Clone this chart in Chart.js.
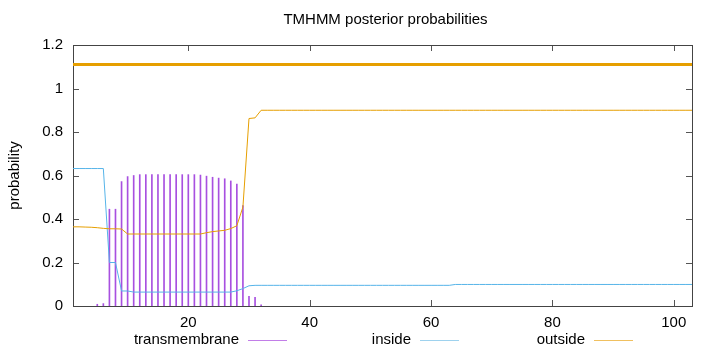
<!DOCTYPE html>
<html>
<head>
<meta charset="utf-8">
<title>TMHMM posterior probabilities</title>
<script src="https://cdn.jsdelivr.net/npm/chart.js@4.4.1/dist/chart.umd.min.js"></script>
<style>
    html, body { margin: 0; padding: 0; background: #fff; }
    #wrap { width: 720px; height: 352px; position: relative; }
</style>
</head>
<body>
<div id="wrap"><canvas id="tmhmmChart" width="720" height="352"></canvas></div>
<script>
// 序列長度與刻度
const seqLength = 103;
const xTicks = [20, 40, 60, 80, 100];
const yTicks = [0, 0.2, 0.4, 0.6, 0.8, 1, 1.2];

// transmembrane (impulses) — 只列出非零的殘基
const tmResidues = [5, 6, 7, 8, 9, 10, 11, 12, 13, 14, 15, 16, 17, 18, 19, 20,
    21, 22, 23, 24, 25, 26, 27, 28, 29, 30, 31, 32];
const tmValues = [0.008, 0.011, 0.445, 0.445, 0.572, 0.595, 0.600, 0.604, 0.604, 0.604,
    0.604, 0.604, 0.604, 0.604, 0.604, 0.604,
    0.604, 0.602, 0.597, 0.592, 0.588, 0.585, 0.575, 0.560, 0.462, 0.045, 0.040, 0.005];

// inside probability, residues 1..103
const insideValues = [
    0.632, 0.632, 0.632, 0.632, 0.632, 0.632, 0.200, 0.200, 0.069, 0.069,
    0.064, 0.064, 0.064, 0.064, 0.064, 0.064, 0.064, 0.064, 0.064, 0.064,
    0.064, 0.064, 0.064, 0.064, 0.064, 0.064, 0.064, 0.070, 0.080, 0.093,
    0.095, 0.095, 0.095, 0.095, 0.095, 0.095, 0.095, 0.095, 0.095, 0.095,
    0.095, 0.095, 0.095, 0.095, 0.095, 0.095, 0.095, 0.095, 0.095, 0.095,
    0.095, 0.095, 0.095, 0.095, 0.095, 0.095, 0.095, 0.095, 0.095, 0.095,
    0.095, 0.095, 0.095, 0.099, 0.099, 0.099, 0.099, 0.099, 0.099, 0.099,
    0.099, 0.099, 0.099, 0.099, 0.099, 0.099, 0.099, 0.099, 0.099, 0.099,
    0.099, 0.099, 0.099, 0.099, 0.099, 0.099, 0.099, 0.099, 0.099, 0.099,
    0.099, 0.099, 0.099, 0.099, 0.099, 0.099, 0.099, 0.099, 0.099, 0.099,
    0.099, 0.099, 0.099
];

// outside probability, residues 1..103
const outsideValues = [
    0.364, 0.364, 0.363, 0.362, 0.360, 0.357, 0.355, 0.355, 0.354, 0.331,
    0.331, 0.331, 0.331, 0.331, 0.331, 0.331, 0.331, 0.331, 0.331, 0.331,
    0.331, 0.331, 0.337, 0.342, 0.345, 0.348, 0.356, 0.369, 0.455, 0.862,
    0.865, 0.900, 0.900, 0.900, 0.900, 0.900, 0.900, 0.900, 0.900, 0.900,
    0.900, 0.900, 0.900, 0.900, 0.900, 0.900, 0.900, 0.900, 0.900, 0.900,
    0.900, 0.900, 0.900, 0.900, 0.900, 0.900, 0.900, 0.900, 0.900, 0.900,
    0.900, 0.900, 0.900, 0.900, 0.900, 0.900, 0.900, 0.900, 0.900, 0.900,
    0.900, 0.900, 0.900, 0.900, 0.900, 0.900, 0.900, 0.900, 0.900, 0.900,
    0.900, 0.900, 0.900, 0.900, 0.900, 0.900, 0.900, 0.900, 0.900, 0.900,
    0.900, 0.900, 0.900, 0.900, 0.900, 0.900, 0.900, 0.900, 0.900, 0.900,
    0.900, 0.900, 0.900
];

// 預測拓撲線 (全部 outside)
const topoStart = 1;
const topoEnd = 103;
const topoLevel = 1.11;

const COLOR_TM = '#a850e0';
const COLOR_IN = '#56b4e9';
const COLOR_OUT = '#e69f00';
const FONT = "'Liberation Sans', Arial, sans-serif";
const FONT_SIZE = 15;

document.addEventListener('DOMContentLoaded', function() {
    createTmhmmChart();
});

function toPoints(values) {
    return values.map((v, i) => ({ x: i + 1, y: v }));
}

// gnuplot 風格的邊框與向內刻度
const framePlugin = {
    id: 'gnuplotFrame',
    beforeDatasetsDraw(chart) {
        const { ctx, chartArea: a, scales } = chart;
        ctx.save();
        ctx.strokeStyle = '#555';
        ctx.lineWidth = 1;
        ctx.beginPath();
        xTicks.forEach(t => {
            const px = Math.round(scales.x.getPixelForValue(t)) + 0.5;
            ctx.moveTo(px, a.bottom); ctx.lineTo(px, a.bottom - 6);
            ctx.moveTo(px, a.top); ctx.lineTo(px, a.top + 6);
        });
        yTicks.forEach(t => {
            const py = Math.round(scales.y.getPixelForValue(t)) + 0.5;
            ctx.moveTo(a.left, py); ctx.lineTo(a.left + 6, py);
            ctx.moveTo(a.right, py); ctx.lineTo(a.right - 6, py);
        });
        ctx.stroke();
        ctx.strokeStyle = '#444';
        ctx.strokeRect(Math.round(a.left) + 0.5, Math.round(a.top) + 0.5,
            Math.round(a.right - a.left), Math.round(a.bottom - a.top));
        ctx.restore();
    },
    afterDraw(chart) {
        const { ctx, chartArea: a } = chart;
        ctx.save();
        ctx.fillStyle = '#000';
        ctx.font = FONT_SIZE + 'px ' + FONT;
        ctx.textBaseline = 'middle';

        // 標題
        ctx.textAlign = 'center';
        ctx.fillText('TMHMM posterior probabilities', (a.left + a.right) / 2 + 3, 20);

        // y 軸標籤
        ctx.save();
        ctx.translate(15, (a.top + a.bottom) / 2);
        ctx.rotate(-Math.PI / 2);
        ctx.fillText('probability', 0, 0);
        ctx.restore();

        // 圖例: 文字在左, 線段在右
        const legendX = [239, 411, 585];
        const legendItems = chart.data.datasets.filter(d => d.inLegend)
            .sort((p, q) => q.order - p.order);
        legendItems.forEach((d, i) => {
            const x = legendX[i];
            ctx.textAlign = 'right';
            ctx.fillText(d.label, x, 340);
            ctx.strokeStyle = d.legendColor;
            ctx.lineWidth = 1;
            ctx.beginPath();
            ctx.moveTo(x + 9, 340.5);
            ctx.lineTo(x + 48, 340.5);
            ctx.stroke();
        });
        ctx.restore();
    }
};

function createTmhmmChart() {
    const ctx = document.getElementById('tmhmmChart');
    if (!ctx) return;

    new Chart(ctx, {
        type: 'line',
        data: {
            datasets: [
                {
                    label: 'topology',
                    data: [{ x: topoStart, y: topoLevel }, { x: topoEnd, y: topoLevel }],
                    borderColor: COLOR_OUT,
                    borderWidth: 3,
                    pointRadius: 0,
                    order: 0
                },
                {
                    label: 'outside',
                    data: toPoints(outsideValues),
                    borderColor: COLOR_OUT,
                    borderWidth: 1,
                    pointRadius: 0,
                    tension: 0,
                    order: 1,
                    inLegend: true,
                    legendColor: '#f0c060'
                },
                {
                    label: 'inside',
                    data: toPoints(insideValues),
                    borderColor: COLOR_IN,
                    borderWidth: 1,
                    pointRadius: 0,
                    tension: 0,
                    order: 2,
                    inLegend: true,
                    legendColor: '#9ed2ee'
                },
                {
                    type: 'bar',
                    label: 'transmembrane',
                    data: tmResidues.map((r, i) => ({ x: r, y: tmValues[i] })),
                    backgroundColor: COLOR_TM,
                    barThickness: 1,
                    order: 3,
                    inLegend: true,
                    legendColor: '#c27ee8'
                }
            ]
        },
        options: {
            responsive: false,
            animation: false,
            devicePixelRatio: 1,
            layout: {
                padding: { left: 0, right: 28, top: 45, bottom: 0 }
            },
            plugins: {
                legend: { display: false },
                title: { display: false },
                tooltip: { enabled: false }
            },
            scales: {
                x: {
                    type: 'linear',
                    min: 1,
                    max: seqLength,
                    offset: false,
                    grid: { display: false, offset: false, drawTicks: false },
                    border: { display: false },
                    afterBuildTicks: scale => {
                        scale.ticks = xTicks.map(v => ({ value: v }));
                    },
                    afterFit: scale => { scale.height = 46; },
                    ticks: {
                        padding: 8,
                        maxRotation: 0,
                        color: '#000',
                        font: { family: FONT, size: FONT_SIZE }
                    }
                },
                y: {
                    min: 0,
                    max: 1.2,
                    grid: { display: false, drawTicks: false },
                    border: { display: false },
                    afterBuildTicks: scale => {
                        scale.ticks = yTicks.map(v => ({ value: v }));
                    },
                    afterFit: scale => { scale.width = 73; },
                    ticks: {
                        padding: 10,
                        color: '#000',
                        font: { family: FONT, size: FONT_SIZE },
                        callback: v => String(v)
                    }
                }
            }
        },
        plugins: [framePlugin]
    });
}
</script>
</body>
</html>
